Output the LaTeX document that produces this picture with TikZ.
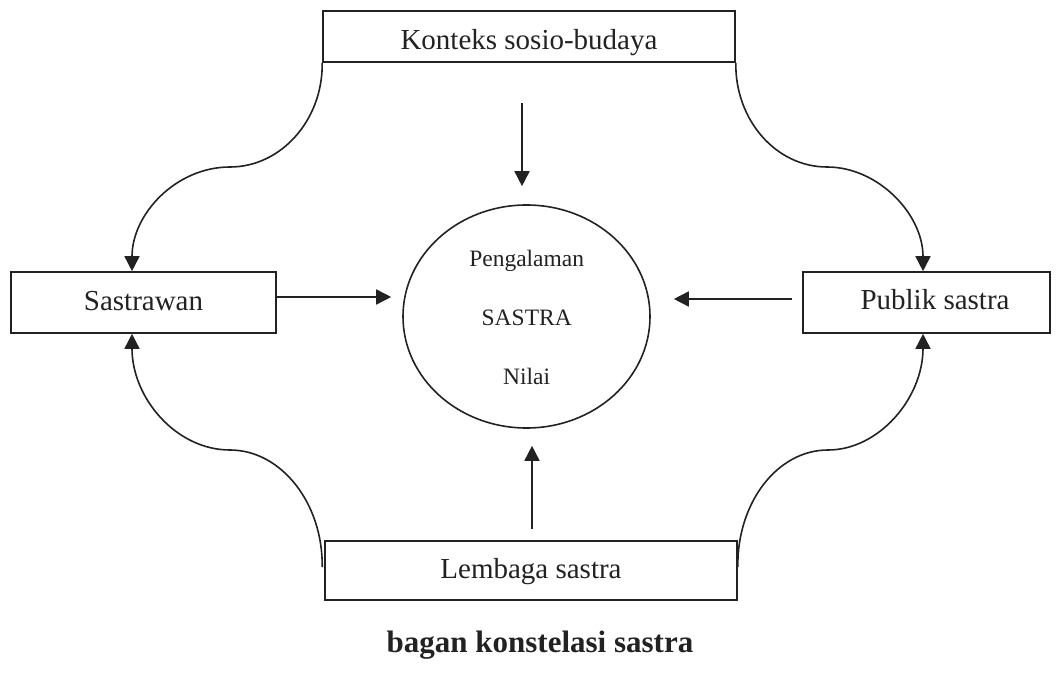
\documentclass[tikz,border=0pt]{standalone}
\usepackage{fontspec}
\setmainfont{Liberation Serif}
\usetikzlibrary{arrows.meta,shapes.geometric,calc}
\definecolor{ink}{HTML}{222222}
\tikzset{
  boxnode/.style={draw=ink, line width=1.6pt, rectangle, inner sep=0pt},
  circnode/.style={draw=ink, line width=1.6pt, ellipse, inner sep=0pt, minimum width=247pt, minimum height=223pt},
  boxtext/.style={text=ink, inner sep=0pt, anchor=base, font=\fontsize{29}{34}\selectfont},
  circtext/.style={text=ink, inner sep=0pt, anchor=base, font=\fontsize{23.5}{28}\selectfont},
  captext/.style={text=ink, inner sep=0pt, anchor=base, font=\fontsize{31}{36}\selectfont\bfseries},
  conn/.style={draw=ink, line width=1.6pt, -{Triangle[length=15pt,width=15pt]}},
}
\begin{document}
\begin{tikzpicture}[x=1pt,y=-1pt]
\useasboundingbox (0,0) rectangle (1062,684);
% boxes
\node[boxnode, minimum width=412pt, minimum height=51pt] (ctx) at (529,36.5) {};
\node[boxnode, minimum width=265pt, minimum height=61pt] (sas) at (143.5,302.5) {};
\node[boxnode, minimum width=247pt, minimum height=61pt] (pub) at (926.5,302.5) {};
\node[boxnode, minimum width=412pt, minimum height=59pt] (lem) at (531,570.5) {};
\node[circnode] (circ) at (526.5,316.5) {};
% texts
\node[boxtext] (ctxT) at (529,50) {Konteks sosio-budaya};
\node[boxtext] (sasT) at (143.5,310.5) {Sastrawan};
\node[boxtext] (pubT) at (935,310) {Publik sastra};
\node[boxtext] (lemT) at (531,578) {Lembaga sastra};
\node[circtext] (c1) at (526.7,266.5) {Pengalaman};
\node[circtext] (c2) at (526.7,326) {SASTRA};
\node[circtext] (c3) at (526.7,384) {Nilai};
\node[captext] (cap) at (540,652) {bagan konstelasi sastra};
% straight arrows
\draw[conn, shorten >=11pt] ([yshift=5.5pt]sas.east) -- ([yshift=5.5pt]sas.east -| circ.west);
\draw[conn, shorten <=10pt, shorten >=23pt] ([yshift=3.5pt]pub.west) -- ([yshift=3.5pt]pub.west -| circ.east);
\draw[conn, shorten <=40pt, shorten >=18pt] ([xshift=-7pt]ctx.south) -- ([xshift=-7pt]ctx.south |- circ.north);
\draw[conn, shorten <=11pt, shorten >=17pt] ([xshift=1pt]lem.north) -- ([xshift=1pt]lem.north |- circ.south);
% curved arrows
\draw[conn] (ctx.south west) .. controls (323,120) and (281,167) .. (230,167)
  .. controls (176,167) and (132,214) .. ([xshift=-11.5pt]sas.north);
\draw[conn] (ctx.south east) .. controls (735,120) and (776,167) .. (827,167)
  .. controls (878,167) and (923,214) .. ([xshift=-3.5pt]pub.north);
\draw[conn] ([xshift=-2pt,yshift=3.5pt]lem.west) .. controls (323,503) and (281,450) .. (230,450)
  .. controls (176,450) and (132,398) .. ([xshift=-11.5pt]sas.south);
\draw[conn] ([yshift=3.5pt]lem.east) .. controls (737,503) and (777,450) .. (828,450)
  .. controls (879,450) and (923,398) .. ([xshift=-3.5pt]pub.south);
\end{tikzpicture}
\end{document}
